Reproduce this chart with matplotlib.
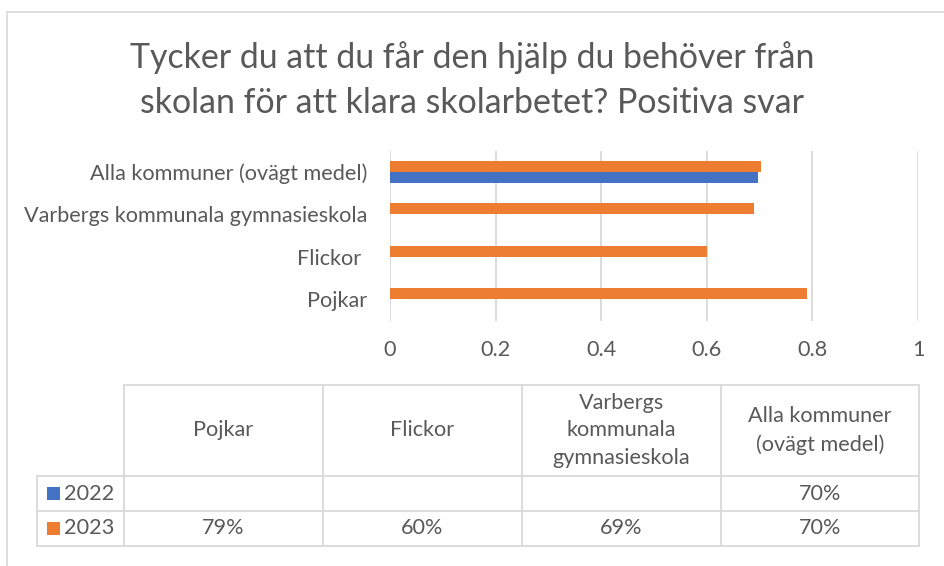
import matplotlib
matplotlib.use("Agg")
import matplotlib.pyplot as plt
from matplotlib.lines import Line2D
from matplotlib.patches import Rectangle
import numpy as np

# ---- data ----
categories = ["Pojkar", "Flickor ", "Varbergs kommunala gymnasieskola", "Alla kommuner (ovägt medel)"]
table_headers = ["Pojkar", "Flickor", "Varbergs\nkommunala\ngymnasieskola", "Alla kommuner\n(ovägt medel)"]
series_names = ["2022", "2023"]
values_2022 = [np.nan, np.nan, np.nan, 0.697]
values_2023 = [0.79, 0.60, 0.69, 0.703]
xticks = [0, 0.2, 0.4, 0.6, 0.8, 1]
xtick_labels = ["0", "0.2", "0.4", "0.6", "0.8", "1"]
title = "Tycker du att du får den hjälp du behöver från\nskolan för att klara skolarbetet? Positiva svar"

# ---- style ----
W, H = 944, 566
BLUE = "#4472C4"
ORANGE = "#ED7D31"
TXT = "#595959"
GRID = "#D9D9D9"
FONT = ["Lato", "DejaVu Sans"]
plt.rcParams['font.family'] = FONT
FS = 15.6

fig = plt.figure(figsize=(W / 100, H / 100), dpi=100)

def fx(x):
    return x / W

def fy(y):
    return 1 - y / H

# chart border
fig.add_artist(Line2D([fx(7), fx(7)], [fy(12), fy(566)], color=GRID, lw=1.2))
fig.add_artist(Line2D([fx(7), fx(944)], [fy(12), fy(12)], color=GRID, lw=1.2))

# title
fig.text(fx(472), fy(80), title, ha="center", va="center", fontsize=24.4,
         color=TXT, linespacing=1.5)

# ---- bar chart ----
ax_l, ax_r, ax_t, ax_b = 390, 918, 150.5, 320.5
ax = fig.add_axes([fx(ax_l), fy(ax_b), fx(ax_r) - fx(ax_l), (ax_b - ax_t) / H])
y = np.arange(len(categories))
bh = 0.256
ax.barh(y - bh / 2, values_2022, height=bh, color=BLUE, zorder=3)
ax.barh(y + bh / 2, values_2023, height=bh, color=ORANGE, zorder=3)
ax.set_xlim(0, 1)
ax.set_ylim(-0.5, len(categories) - 0.5)
ax.set_xticks(xticks)
ax.set_xticklabels(xtick_labels)
ax.set_yticks(y)
ax.set_yticklabels(categories)
ax.tick_params(axis="both", length=0, colors=TXT, labelsize=FS)
ax.tick_params(axis="x", pad=14)
ax.tick_params(axis="y", pad=16.5)
ax.grid(axis="x", color=GRID, lw=1.3, zorder=0)
for s in ax.spines.values():
    s.set_visible(False)
ax.set_facecolor("none")

# ---- data table ----
col_edges = [124, 323, 522, 721, 919]
row_edges = [385, 476, 511, 545.5]
left_edge = 37
lw = 1.3

def hline(y0, x0, x1):
    fig.add_artist(Line2D([fx(x0), fx(x1)], [fy(y0), fy(y0)], color=GRID, lw=lw))

def vline(x0, y0, y1):
    fig.add_artist(Line2D([fx(x0), fx(x0)], [fy(y0), fy(y1)], color=GRID, lw=lw))

hline(row_edges[0], col_edges[0], col_edges[-1])
for r in row_edges[1:]:
    hline(r, left_edge, col_edges[-1])
vline(left_edge, row_edges[1], row_edges[-1])
for c in col_edges:
    vline(c, row_edges[0], row_edges[-1])

# headers
for i, h in enumerate(table_headers):
    cx = (col_edges[i] + col_edges[i + 1]) / 2
    cy = (row_edges[0] + row_edges[1]) / 2
    fig.text(fx(cx), fy(cy), h, ha="center", va="center", fontsize=FS,
             color=TXT, linespacing=1.45)

# rows
for ri, (name, vals, colr) in enumerate(zip(series_names, [values_2022, values_2023], [BLUE, ORANGE])):
    cy = (row_edges[ri + 1] + row_edges[ri + 2]) / 2
    fig.add_artist(Rectangle((fx(47), fy(cy + 6.5)), 13 / W, 13 / H, transform=fig.transFigure,
                             color=colr, lw=0))
    fig.text(fx(64), fy(cy), name, ha="left", va="center", fontsize=FS, color=TXT)
    for ci, v in enumerate(vals):
        if np.isnan(v):
            continue
        cx = (col_edges[ci] + col_edges[ci + 1]) / 2
        fig.text(fx(cx), fy(cy), f"{round(v * 100)}%", ha="center", va="center",
                 fontsize=FS, color=TXT)

fig.savefig("out.png", dpi=100)
